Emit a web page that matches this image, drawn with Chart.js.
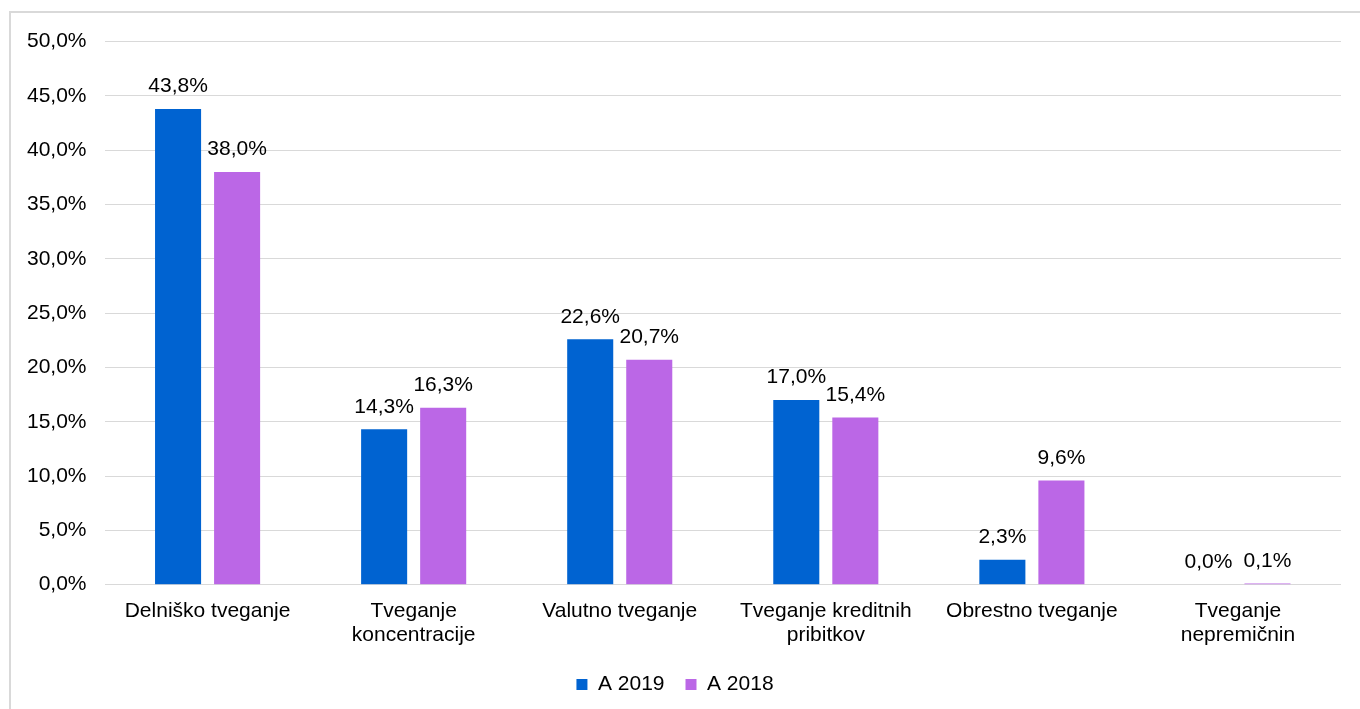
<!DOCTYPE html>
<html>
<head>
<meta charset="utf-8">
<script src="https://cdn.jsdelivr.net/npm/chart.js@4/dist/chart.umd.min.js"></script>
<style>
    html, body { margin: 0; padding: 0; background: #fff; overflow: hidden; }
    body { width: 1360px; height: 709px; position: relative; font-family: "Liberation Sans", Arial, sans-serif; }
    #naslov { position: absolute; left: 4px; top: -19px; font-size: 20px; font-weight: bold; color: #000; }
    #okvir { position: absolute; left: 9px; top: 11px; width: 1400px; height: 760px; border: 2px solid #d9d9d9; box-sizing: border-box; }
    #graf { position: absolute; left: 9px; top: 11px; }
</style>
</head>
<body>
<div id="naslov">31. 12. 2018</div>
<div id="okvir"></div>
<canvas id="graf" width="1351" height="698"></canvas>
<script>
var kategorije = [
    'Delniško tveganje',
    ['Tveganje', 'koncentracije'],
    'Valutno tveganje',
    ['Tveganje kreditnih', 'pribitkov'],
    'Obrestno tveganje',
    ['Tveganje', 'nepremičnin']
];
var leto2019 = [43.8, 14.3, 22.6, 17.0, 2.3, 0.0];
var leto2018 = [38.0, 16.3, 20.7, 15.4, 9.6, 0.1];

var pisava = '"Liberation Sans", Arial, sans-serif';

function odstotek(v)
{
    return v.toFixed(1).replace('.', ',') + '%';
}

// vrednosti nad stolpci
let oznake = {
    id: 'oznake',
    afterDatasetsDraw(chart) {
        let ctx = chart.ctx;
        ctx.save();
        ctx.font = '21px ' + pisava;
        ctx.fillStyle = '#000';
        ctx.textAlign = 'center';
        ctx.textBaseline = 'bottom';
        chart.data.datasets.forEach((ds, i) => {
            chart.getDatasetMeta(i).data.forEach((bar, j) => {
                ctx.fillText(odstotek(ds.data[j]), bar.x, bar.y - 12);
            });
        });
        ctx.restore();
    }
};

let config = {
    type: 'bar',
    data: {
        labels: kategorije,
        datasets: [
            {
                label: 'A 2019',
                data: leto2019,
                backgroundColor: 'rgb(0, 99, 209)',
                categoryPercentage: 0.573,
                barPercentage: 0.78
            },
            {
                label: 'A 2018',
                data: leto2018,
                backgroundColor: 'rgb(187, 103, 230)',
                categoryPercentage: 0.573,
                barPercentage: 0.78
            }
        ]
    },
    options: {
        responsive: false,
        animation: false,
        layout: { padding: { left: 0, right: 19, top: 18, bottom: 4 } },
        plugins: {
            legend: {
                position: 'bottom',
                labels: {
                    boxWidth: 11,
                    boxHeight: 11,
                    padding: 21,
                    color: '#000',
                    font: { size: 21, family: pisava }
                }
            },
            tooltip: { enabled: false }
        },
        scales: {
            x: {
                grid: { display: false },
                border: { display: false },
                ticks: {
                    color: '#000',
                    maxRotation: 0,
                    autoSkip: false,
                    padding: 6,
                    font: { size: 21, family: pisava, lineHeight: 1.15 }
                }
            },
            y: {
                min: 0,
                max: 50,
                border: { display: false },
                grid: { color: '#d9d9d9', lineWidth: 1, drawTicks: false },
                ticks: {
                    stepSize: 5,
                    color: '#000',
                    padding: 18,
                    font: { size: 21, family: pisava },
                    callback: v => odstotek(v)
                }
            }
        }
    },
    plugins: [oznake]
};

let grafTveganj = new Chart(document.getElementById('graf'), config);
</script>
</body>
</html>
